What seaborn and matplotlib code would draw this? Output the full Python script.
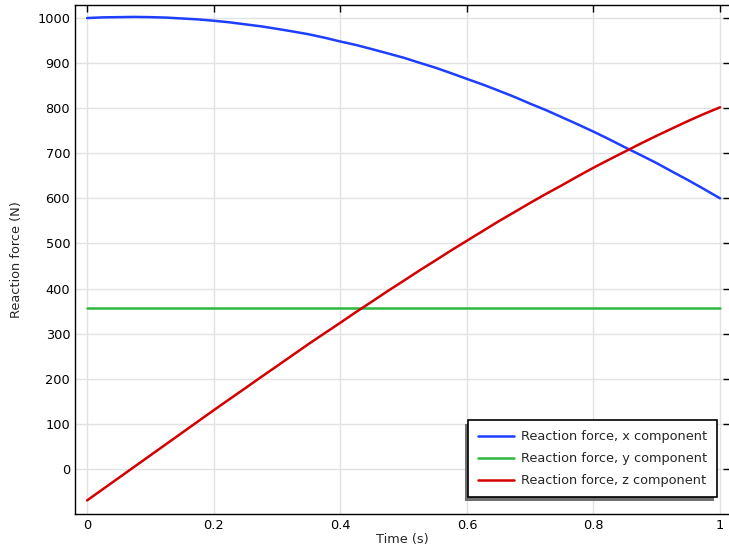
import numpy as np
import pandas as pd
import seaborn as sb
import matplotlib.pyplot as plt
from matplotlib.patches import Rectangle
from matplotlib.transforms import IdentityTransform

# values
t = [0.0, 0.025, 0.05, 0.075, 0.1, 0.125, 0.15, 0.175, 0.2, 0.225, 0.25,
     0.275, 0.3, 0.325, 0.35, 0.375, 0.4, 0.425, 0.45, 0.475, 0.5,
     0.525, 0.55, 0.575, 0.6, 0.625, 0.65, 0.675, 0.7, 0.725, 0.75,
     0.775, 0.8, 0.825, 0.85, 0.875, 0.9, 0.925, 0.95, 0.975, 1.0]
fx = [1000, 1001.5, 1002, 1002.5, 1002, 1001, 999, 997, 994, 990.5, 986,
      981.6, 976, 970.2, 964, 956.4, 948, 940.2, 931, 921.6, 912,
      900.8, 890, 877.7, 865, 852.5, 839, 825.1, 810, 795.7, 780,
      764.2, 748, 730.9, 713, 695.7, 678, 658.8, 640, 620.3, 600]
fy = [357] * len(t)
fz = [-70, -45, -20, 5, 30, 55, 80, 105, 130, 154.6, 179,
      203.8, 228, 252.5, 277, 300.6, 324, 348, 371, 394.5, 417,
      440, 462, 484.4, 506, 527.5, 549, 569.4, 590, 609.9, 629,
      648.8, 668, 686.2, 704, 721.8, 739, 755.6, 772, 787.5, 802]

noms = ['Reaction force, x component', 'Reaction force, y component',
        'Reaction force, z component']
culori = ['#1E3FFF', '#2DB83D', '#D40000']

df = pd.DataFrame({'t': t * 3, 'F': fx + fy + fz,
                   'serie': [noms[0]] * len(t) + [noms[1]] * len(t) + [noms[2]] * len(t)})

sb.set_style('white')
plt.rcParams['font.family'] = ['DejaVu Sans']

f = plt.figure(figsize=(7.29, 5.52), dpi=100)
ax = f.add_axes([0.103, 0.069, 0.8985, 0.922])
sb.lineplot(data=df, x='t', y='F', hue='serie', palette=culori, hue_order=noms,
            linewidth=1.8, ax=ax, legend=True)

ax.set_xlim(-0.019, 1.0158)
ax.set_ylim(-100, 1029)
ax.set_xticks([0, 0.2, 0.4, 0.6, 0.8, 1])
ax.set_xticklabels(['0', '0.2', '0.4', '0.6', '0.8', '1'])
ax.set_yticks(np.arange(0, 1001, 100))
ax.grid(True, color='#e2e2e2', linewidth=1)
ax.tick_params(direction='in', length=5, width=1, colors='black', labelsize=9.3,
               top=True, right=True, labelcolor='black')
for s in ax.spines.values():
    s.set_visible(True)
    s.set_color('black')
    s.set_linewidth(1)
ax.set_xlabel('Time (s)', fontsize=9.3, labelpad=1)
ax.set_ylabel('Reaction force (N)', fontsize=9.3, labelpad=10)

leg = ax.legend(loc='lower right', bbox_to_anchor=(0.980, 0.0334), fontsize=9.3,
                fancybox=False, edgecolor='black', framealpha=1,
                handlelength=2.8, handletextpad=0.55, borderpad=0.75,
                labelspacing=0.7, borderaxespad=0)
leg.get_frame().set_linewidth(1.2)
for ln in leg.get_lines():
    ln.set_linewidth(1.8)

# umbra legendei (spre stanga-jos)
f.canvas.draw()
bb = leg.get_frame().get_window_extent()
umbra = Rectangle((bb.x0 - 3, bb.y0 - 4), bb.width, bb.height,
                  transform=IdentityTransform(), facecolor='#707070',
                  edgecolor='none', zorder=4.9, clip_on=False)
ax.add_artist(umbra)

f.savefig('out.png', dpi=100)
